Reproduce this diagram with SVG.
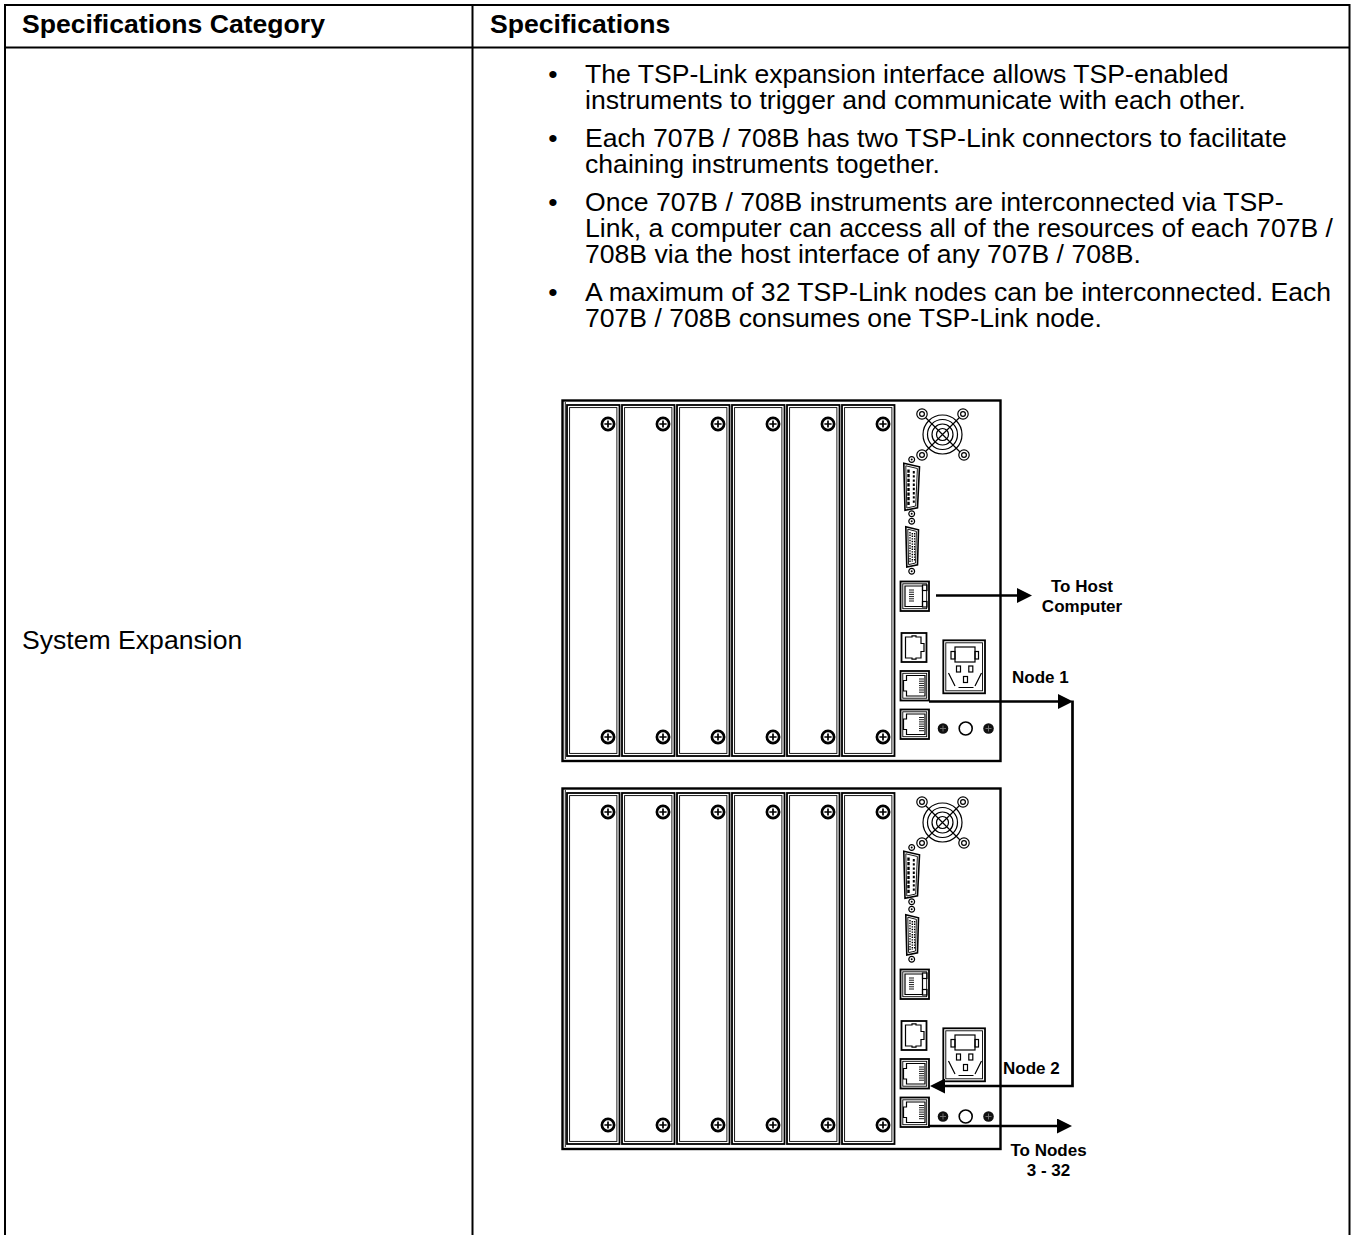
<svg xmlns="http://www.w3.org/2000/svg" xmlns:xlink="http://www.w3.org/1999/xlink" width="1354" height="1235" viewBox="0 0 1354 1235">
<style>
  .t { font-family: "Liberation Sans", Arial, Helvetica, sans-serif; font-size: 26.6px; fill: #000; }
  .b { font-weight: bold; }
  .lbl { font-family: "Liberation Sans", Arial, Helvetica, sans-serif; font-size: 17px; font-weight: bold; fill: #000; }
  .tbl { stroke: #000; stroke-width: 2; fill: none; }
  .frm { stroke: #000; stroke-width: 2.4; fill: #fff; }
  .c1 { stroke: #000; stroke-width: 1.8; fill: #fff; }
  .c2 { stroke: #000; stroke-width: 0.9; fill: none; }
  .ln { stroke: #000; stroke-width: 1.2; fill: none; }
  .lnw { stroke: #000; stroke-width: 1.2; fill: #fff; }
  .conn { stroke: #000; stroke-width: 2.7; fill: none; }
</style>
<defs>
  <marker id="ah" viewBox="0 0 15 15" refX="3" refY="7.5" markerWidth="15" markerHeight="15" markerUnits="userSpaceOnUse" orient="auto">
    <path d="M0,0 L15,7.5 L0,15 Z" fill="#000"/>
  </marker>
  <g id="screw">
    <circle r="6.1" fill="#fff" stroke="#000" stroke-width="2.7"/>
    <path d="M-3.6,0 H3.6 M0,-3.6 V3.6" stroke="#000" stroke-width="1.7"/>
  </g>
  <g id="dscrew">
    <circle r="5.3" fill="#111"/>
    <path d="M-3,0 H3 M0,-3 V3" stroke="#777" stroke-width="0.9"/>
  </g>
  <g id="hole">
    <circle r="5.2" class="lnw" stroke-width="1.4"/>
    <circle r="2.4" class="lnw" stroke-width="1.3"/>
  </g>
  <g id="smallhole">
    <circle r="2.9" class="lnw" stroke-width="1.3"/>
    <circle r="1" fill="#000"/>
  </g>
  <g id="rj45L">
    <rect x="900.5" y="0" width="28.5" height="29.5" fill="#fff" stroke="#000" stroke-width="1.8"/>
    <rect x="902.8" y="2.3" width="23.9" height="24.9" class="c2"/>
    <path d="M906.5,4.5 H925 V25 H906.5 V20 H903.5 V9.5 H906.5 Z" class="ln" stroke-width="1.4"/>
    <path d="M919,8 H924 M919,10.2 H924 M919,12.4 H924 M919,14.6 H924 M919,16.8 H924 M919,19 H924 M919,21.2 H924" stroke="#000" stroke-width="0.9"/>
  </g>
  <g id="chassis">
    <rect x="562.5" y="400.5" width="438" height="360.5" class="frm"/>
    <path d="M565.3,402 V759" class="c2"/>
    <rect x="567" y="405" width="52.5" height="351" class="c1"/>
    <rect x="569.6" y="407.6" width="47.3" height="345.8" class="c2"/>
    <rect x="622" y="405" width="52.5" height="351" class="c1"/>
    <rect x="624.6" y="407.6" width="47.3" height="345.8" class="c2"/>
    <rect x="677" y="405" width="52.5" height="351" class="c1"/>
    <rect x="679.6" y="407.6" width="47.3" height="345.8" class="c2"/>
    <rect x="732" y="405" width="52.5" height="351" class="c1"/>
    <rect x="734.6" y="407.6" width="47.3" height="345.8" class="c2"/>
    <rect x="787" y="405" width="52.5" height="351" class="c1"/>
    <rect x="789.6" y="407.6" width="47.3" height="345.8" class="c2"/>
    <rect x="842" y="405" width="52.5" height="351" class="c1"/>
    <rect x="844.6" y="407.6" width="47.3" height="345.8" class="c2"/>
    <use xlink:href="#screw" href="#screw" x="608" y="424"/>
    <use xlink:href="#screw" href="#screw" x="663" y="424"/>
    <use xlink:href="#screw" href="#screw" x="718" y="424"/>
    <use xlink:href="#screw" href="#screw" x="773" y="424"/>
    <use xlink:href="#screw" href="#screw" x="828" y="424"/>
    <use xlink:href="#screw" href="#screw" x="883" y="424"/>
    <use xlink:href="#screw" href="#screw" x="608" y="737"/>
    <use xlink:href="#screw" href="#screw" x="663" y="737"/>
    <use xlink:href="#screw" href="#screw" x="718" y="737"/>
    <use xlink:href="#screw" href="#screw" x="773" y="737"/>
    <use xlink:href="#screw" href="#screw" x="828" y="737"/>
    <use xlink:href="#screw" href="#screw" x="883" y="737"/>
    <!-- fan -->
    <circle cx="942.5" cy="434.5" r="19.5" class="ln" stroke-width="1.5"/>
    <circle cx="942.5" cy="434.5" r="15" class="ln" stroke-width="1.5"/>
    <circle cx="942.5" cy="434.5" r="10.5" class="ln" stroke-width="1.5"/>
    <circle cx="942.5" cy="434.5" r="6" class="ln" stroke-width="1.5"/>
    <path d="M922,414 L963,455 M963,414 L922,455" class="ln" stroke-width="1.5"/>
    <use xlink:href="#hole" href="#hole" x="922" y="414"/>
    <use xlink:href="#hole" href="#hole" x="963" y="414"/>
    <use xlink:href="#hole" href="#hole" x="922" y="455"/>
    <use xlink:href="#hole" href="#hole" x="964" y="455"/>
    <!-- connector 1 -->
    <use xlink:href="#smallhole" href="#smallhole" x="911.7" y="459.5"/>
    <use xlink:href="#smallhole" href="#smallhole" x="911.7" y="513.8"/>
    <path d="M903.8,463.3 L919.5,466.8 L917.5,507.8 L905,510.3 Z" fill="#fff" stroke="#000" stroke-width="1.6"/>
    <path d="M905.8,465.8 L917.4,468.5 L915.7,506 L906.8,508 Z" class="c2"/>
    <path d="M908.5,469.5 V505" stroke="#000" stroke-width="2.4" stroke-dasharray="3.2 1.4"/>
    <path d="M913.8,471 V503.5" stroke="#000" stroke-width="2" stroke-dasharray="2.4 1.8"/>
    <!-- connector 2 -->
    <use xlink:href="#smallhole" href="#smallhole" x="911.7" y="521.3"/>
    <use xlink:href="#smallhole" href="#smallhole" x="911.7" y="571.3"/>
    <path d="M905.8,526.8 L918.5,529.8 L917.5,564.8 L906.8,567 Z" fill="#fff" stroke="#000" stroke-width="1.6"/>
    <path d="M907.8,529.2 L916.4,531.4 L915.6,563 L908.6,564.6 Z" class="c2"/>
    <path d="M910,532 V562 M912.3,533 V562 M914.6,533 V561" stroke="#000" stroke-width="1.4" stroke-dasharray="1.4 1.2"/>
    <!-- host LAN port -->
    <rect x="900.5" y="581.5" width="28.5" height="29.5" fill="#fff" stroke="#000" stroke-width="1.8"/>
    <rect x="902.8" y="583.8" width="23.9" height="24.9" class="c2"/>
    <path d="M905,586 H922.5 V606.5 H905 Z" class="ln" stroke-width="1.4"/>
    <rect x="922.5" y="585" width="4.5" height="5.5" class="ln"/>
    <rect x="922.5" y="601.5" width="4.5" height="5.5" class="ln"/>
    <path d="M909,590 H914 M909,592.2 H914 M909,594.4 H914 M909,596.6 H914 M909,598.8 H914 M909,601 H914" stroke="#000" stroke-width="0.9"/>
    <!-- RJ11-like port -->
    <rect x="901.5" y="633" width="25" height="29" fill="#fff" stroke="#000" stroke-width="1.8"/>
    <path d="M905.5,637 H912 V635.8 H916 V637 H921 V643.5 H924 V651.5 H921 V658 H916 V659.2 H912 V658 H905.5 Z" class="ln" stroke-width="1.6"/>
    <!-- TSP-Link ports -->
    <use xlink:href="#rj45L" href="#rj45L" y="671"/>
    <use xlink:href="#rj45L" href="#rj45L" y="709.5"/>
    <!-- power inlet -->
    <rect x="943.3" y="640.3" width="41.7" height="53" fill="#fff" stroke="#000" stroke-width="1.8"/>
    <rect x="945.8" y="642.8" width="36.7" height="48" class="c2"/>
    <rect x="955" y="647" width="20" height="15" class="ln" stroke-width="1.6"/>
    <rect x="951" y="651.5" width="4" height="7.5" class="ln"/>
    <rect x="975" y="651.5" width="3.5" height="7.5" class="ln"/>
    <rect x="956.5" y="666" width="4" height="6" class="ln" stroke-width="1.5"/>
    <rect x="968.8" y="666" width="4" height="6" class="ln" stroke-width="1.5"/>
    <rect x="963.5" y="676.5" width="4" height="6" class="ln" stroke-width="1.5"/>
    <path d="M948.5,673 L955,686 M981.5,673 L975,686 M958.5,687.5 H973.5" class="ln" stroke-width="1.4"/>
    <!-- bottom row -->
    <use xlink:href="#dscrew" href="#dscrew" x="943" y="728.5"/>
    <use xlink:href="#dscrew" href="#dscrew" x="988.5" y="728.5"/>
    <circle cx="965.7" cy="728.5" r="6.5" fill="#fff" stroke="#000" stroke-width="1.6"/>
  </g>
</defs>

<g id="table">
  <line x1="4" y1="5" x2="1350" y2="5" class="tbl"/>
  <line x1="5" y1="4" x2="5" y2="1235" class="tbl"/>
  <line x1="1349.5" y1="4" x2="1349.5" y2="1235" class="tbl"/>
  <line x1="472.5" y1="4" x2="472.5" y2="1235" class="tbl"/>
  <line x1="4" y1="47.5" x2="1350" y2="47.5" class="tbl"/>
</g>

<g id="header">
  <text class="t b" x="22" y="33">Specifications Category</text>
  <text class="t b" x="490" y="33">Specifications</text>
</g>

<g id="category">
  <text class="t" x="22" y="649">System Expansion</text>
</g>

<g id="bullets">
  <text class="t" x="553" y="83" text-anchor="middle">•</text>
  <text class="t" x="585" y="83"><tspan x="585" y="83">The TSP-Link expansion interface allows TSP-enabled</tspan><tspan x="585" y="109">instruments to trigger and communicate with each other.</tspan></text>
  <text class="t" x="553" y="147" text-anchor="middle">•</text>
  <text class="t" x="585" y="147"><tspan x="585" y="147">Each 707B / 708B has two TSP-Link connectors to facilitate</tspan><tspan x="585" y="173">chaining instruments together.</tspan></text>
  <text class="t" x="553" y="211" text-anchor="middle">•</text>
  <text class="t" x="585" y="211"><tspan x="585" y="211">Once 707B / 708B instruments are interconnected via TSP-</tspan><tspan x="585" y="237">Link, a computer can access all of the resources of each 707B /</tspan><tspan x="585" y="263">708B via the host interface of any 707B / 708B.</tspan></text>
  <text class="t" x="553" y="301" text-anchor="middle">•</text>
  <text class="t" x="585" y="301"><tspan x="585" y="301">A maximum of 32 TSP-Link nodes can be interconnected. Each</tspan><tspan x="585" y="327">707B / 708B consumes one TSP-Link node.</tspan></text>
</g>

<g id="unit-1">
  <use xlink:href="#chassis" href="#chassis"/>
</g>
<g id="unit-2" transform="translate(0,388)">
  <use xlink:href="#chassis" href="#chassis"/>
</g>

<g id="connectors">
  <path d="M936,595.5 H1020" class="conn" marker-end="url(#ah)"/>
  <path d="M929,701.5 H1061" class="conn" marker-end="url(#ah)"/>
  <path d="M1072.5,700.5 V1086 H942" class="conn" marker-end="url(#ah)"/>
  <path d="M928,1126 H1060" class="conn" marker-end="url(#ah)"/>
</g>

<g id="labels">
  <text class="lbl" x="1082" y="592" text-anchor="middle"><tspan x="1082" y="592">To Host</tspan><tspan x="1082" y="612">Computer</tspan></text>
  <text class="lbl" x="1012" y="683">Node 1</text>
  <text class="lbl" x="1003" y="1074">Node 2</text>
  <text class="lbl" x="1048.5" y="1156" text-anchor="middle"><tspan x="1048.5" y="1156">To Nodes</tspan><tspan x="1048.5" y="1176">3 - 32</tspan></text>
</g>
</svg>
